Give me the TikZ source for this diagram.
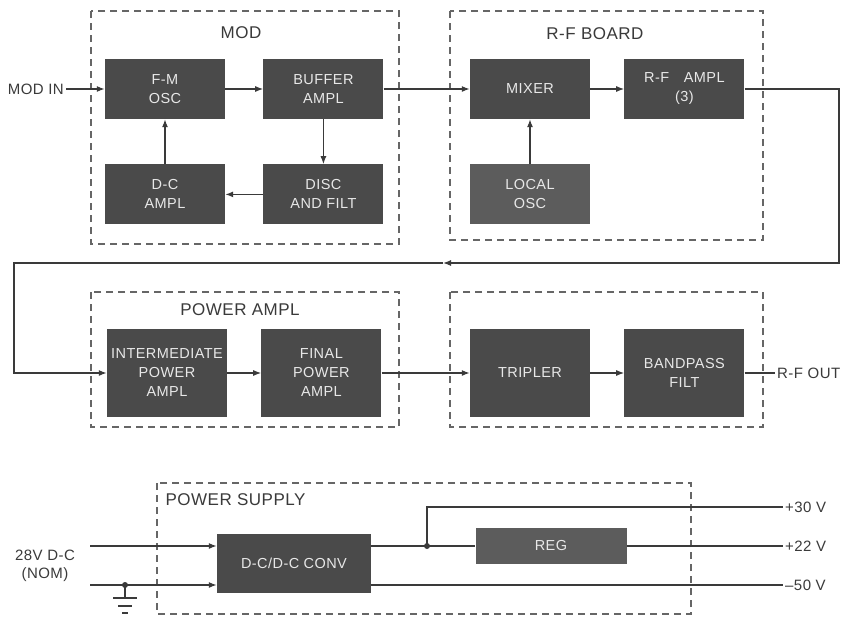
\documentclass[tikz,border=0pt]{standalone}
\usepackage{fontspec}
\setmainfont[LetterSpace=3]{Liberation Sans}
\usepackage{xcolor}
\usepackage{tikz}
\usetikzlibrary{arrows.meta,positioning}
\definecolor{boxgray}{HTML}{4A4A4A}
\definecolor{oscgray}{HTML}{5C5C5C}
\definecolor{boxtext}{HTML}{E8E8E8}
\definecolor{ink}{HTML}{3A3A3A}
\definecolor{dashgray}{HTML}{666666}

\begin{document}
\begin{tikzpicture}[x=1pt, y=-1pt, node distance=45pt and 36pt, every node/.style={font=\fontsize{15}{18}\selectfont, text=ink}, blk/.style={fill=boxgray, text=boxtext, align=center, inner sep=1pt, minimum width=120pt, minimum height=60pt, font=\fontsize{14.5}{19}\selectfont}, tall/.style={blk, minimum height=88pt}, wire/.style={draw=ink, line width=1.3pt}, arr/.style={wire, -{Latex[length=8pt,width=6pt]}}, grp/.style={draw=dashgray, line width=1.1pt, dash pattern=on 7pt off 5pt}, lbl/.style={font=\fontsize{17}{20}\selectfont}]
\fill[white] (0,0) rectangle (849,616);
\useasboundingbox (0,0) rectangle (849,616);
\node[blk] (fmosc) at (165,89) {F-M\\OSC};
\node[blk, right=38pt of fmosc] (buffer) {BUFFER\\AMPL};
\node[blk, below=of fmosc] (dcampl) {D-C\\AMPL};
\node[blk, below=of buffer] (disc) {DISC\\AND FILT};
\node[blk] (mixer) at (530,89) {MIXER};
\node[blk, right=34pt of mixer] (rfamp) {R-F\quad AMPL\\(3)};
\node[blk, fill=oscgray, below=of mixer] (localosc) {LOCAL\\OSC};
\node[tall] (ipa) at (167,373) {INTERMEDIATE\\POWER\\AMPL};
\node[tall, right=34pt of ipa] (fpa) {FINAL\\POWER\\AMPL};
\node[tall] (tripler) at (530,373) {TRIPLER};
\node[tall, right=34pt of tripler] (bpf) {BANDPASS\\FILT};
\node[blk, minimum width=154pt, minimum height=59pt] (conv) at (294,563) {D-C/D-C CONV};
\node[blk, fill=oscgray, minimum width=151pt, minimum height=36pt] (reg) at (551,546) {REG};
\draw[grp] (91,11) rectangle (399,244);
\draw[grp] (450,11) rectangle (763,240);
\draw[grp] (91,292) rectangle (399,427);
\draw[grp] (450,292) rectangle (763,427);
\draw[grp] (157,483) rectangle (691,614);
\node[lbl] (modlbl) at (241,33) {MOD};
\node[lbl] (rflbl) at (595,34) {R-F BOARD};
\node[lbl] (palbl) at (240,310) {POWER AMPL};
\node[lbl, anchor=west] (pslbl) at (162,500) {POWER SUPPLY};
\node[anchor=east, inner sep=2pt] (modin) at (66,89) {MOD IN};
\node[anchor=west, inner sep=2pt] (rfout) at (775,373) {R-F OUT};
\draw[arr] (modin) -- (fmosc);
\draw[arr] (fmosc) -- (buffer);
\draw[arr] (buffer) -- (disc);
\draw[arr] (disc) -- (dcampl);
\draw[arr] (dcampl) -- (fmosc);
\draw[arr] (buffer) -- (mixer);
\draw[arr] (mixer) -- (rfamp);
\draw[arr] (localosc) -- (mixer);
\coordinate (fbr) at (839,263);
\coordinate (fbm) at (443,263);
\coordinate (fbl) at (14,263);
\draw[arr] (rfamp.east) -| (fbr) -- (fbm);
\draw[arr] (fbm) -- (fbl) |- (ipa.west);
\draw[arr] (ipa) -- (fpa);
\draw[arr] (fpa) -- (tripler);
\draw[arr] (tripler) -- (bpf);
\draw[wire] (bpf) -- (rfout);
\node[align=center] (vin) at (45,566) {28V D-C\\(NOM)};
\coordinate (in1) at (90,546);
\coordinate (in2) at (90,585);
\draw[arr] (in1) -- (in1 -| conv.west);
\draw[arr] (in2) -- (in2 -| conv.west);
\coordinate (gnd) at (125,585);
\fill[ink] (gnd) circle (3pt);
\draw[wire] (gnd) -- ++(0,13) coordinate (gtop);
\draw[wire] ([xshift=-12pt]gtop) -- ([xshift=12pt]gtop);
\draw[wire] ([xshift=-7pt,yshift=-8pt]gtop) -- ([xshift=7pt,yshift=-8pt]gtop);
\draw[wire] ([xshift=-3pt,yshift=-15pt]gtop) -- ([xshift=3pt,yshift=-15pt]gtop);
\coordinate (jn) at (427,546);
\node[anchor=west, inner sep=2pt] (v30) at (783,507) {+30 V};
\node[anchor=west, inner sep=2pt] (v22) at (783,546) {+22 V};
\node[anchor=west, inner sep=2pt] (v50) at (783,585) {--50 V};
\draw[wire] (conv.east |- jn) -- (jn) -- (reg.west);
\fill[ink] (jn) circle (3pt);
\draw[wire] (jn) |- (v30.west);
\draw[wire] (reg.east) -- (v22.west);
\draw[wire] (conv.east |- in2) -- (v50.west);
\end{tikzpicture}
\end{document}
